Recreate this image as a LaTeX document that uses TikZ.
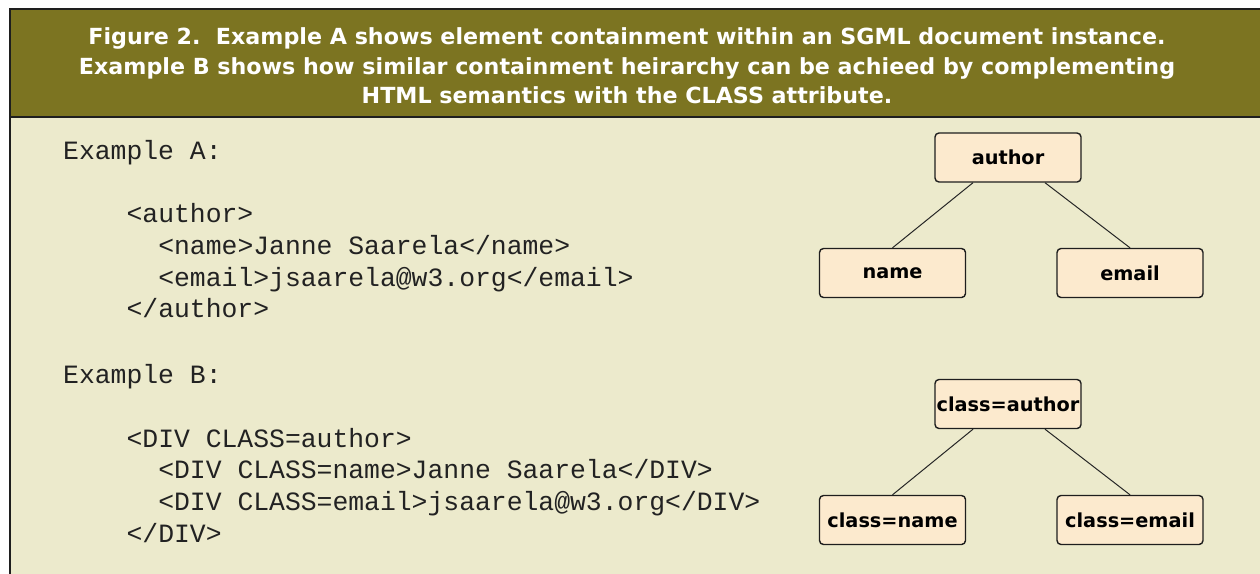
\documentclass[tikz,border=0pt]{standalone}
\usepackage{fontspec}
\setmainfont{DejaVu Sans}
\setmonofont{Liberation Mono}

\definecolor{headolive}{RGB}{124,116,33}
\definecolor{bodycream}{RGB}{236,234,204}
\definecolor{boxfill}{RGB}{252,234,206}
\definecolor{frameline}{RGB}{30,30,30}
\definecolor{codeink}{RGB}{34,34,34}

\begin{document}
\begin{tikzpicture}[
    x=1pt, y=1pt,
    caption/.style={text=white, align=center, font=\fontsize{22.2}{29.5}\selectfont\bfseries},
    code/.style={anchor=base west, inner sep=0pt, text=codeink, font=\fontsize{26.4}{31}\selectfont\ttfamily},
    elem/.style={draw=frameline, fill=boxfill, rounded corners=4pt, line width=1.4pt,
        minimum width=146pt, minimum height=49pt, inner sep=0pt,
        font=\fontsize{19.3}{22}\selectfont\bfseries},
    link/.style={draw=black!85, line width=1pt},
]

\useasboundingbox (0,0) rectangle (1260,-573);
\clip (0,0) rectangle (1260,-573);

% Caption band and body panel
\draw[fill=headolive, draw=frameline, line width=2pt] (10,-9) rectangle (1275,-117);
\draw[fill=bodycream, draw=frameline, line width=2pt] (10,-117) rectangle (1275,-590);

\node[caption] (title) at (627,-66) {Figure 2.\ \ Example A shows element containment within an SGML document instance.\\
    Example B shows how similar containment heirarchy can be achieed by complementing\\
    HTML semantics with the CLASS attribute.};

% Example A listing
\node[code] (exA) at (63,-159) {Example A:};
\node[code] (aAuthor) at (126.4,-222) {<author>};
\node[code] (aName) at (158.1,-254) {<name>Janne Saarela</name>};
\node[code] (aEmail) at (158.1,-286) {<email>jsaarela@w3.org</email>};
\node[code] (aAuthorEnd) at (126.4,-317) {</author>};

% Example B listing
\node[code] (exB) at (63,-383) {Example B:};
\node[code] (bDiv) at (126.4,-447) {<DIV CLASS=author>};
\node[code] (bName) at (158.1,-478) {<DIV CLASS=name>Janne Saarela</DIV>};
\node[code] (bEmail) at (158.1,-510) {<DIV CLASS=email>jsaarela@w3.org</DIV>};
\node[code] (bDivEnd) at (126.4,-542) {</DIV>};

% Element tree for example A
\node[elem] (author) at (1008,-157.5) {author};
\node[elem] (name) at (892.5,-273) {name};
\node[elem] (email) at (1130,-273) {email};
\draw[link] ([xshift=-35pt]author.south) -- (name.north);
\draw[link] ([xshift=37pt]author.south) -- (email.north);

% Same tree with CLASS attributes
\node[elem] (cAuthor) at (1008,-404) {class=author};
\node[elem] (cName) at (892.5,-520) {class=name};
\node[elem] (cEmail) at (1130,-520) {class=email};
\draw[link] ([xshift=-35pt]cAuthor.south) -- (cName.north);
\draw[link] ([xshift=37pt]cAuthor.south) -- (cEmail.north);

\end{tikzpicture}
\end{document}
